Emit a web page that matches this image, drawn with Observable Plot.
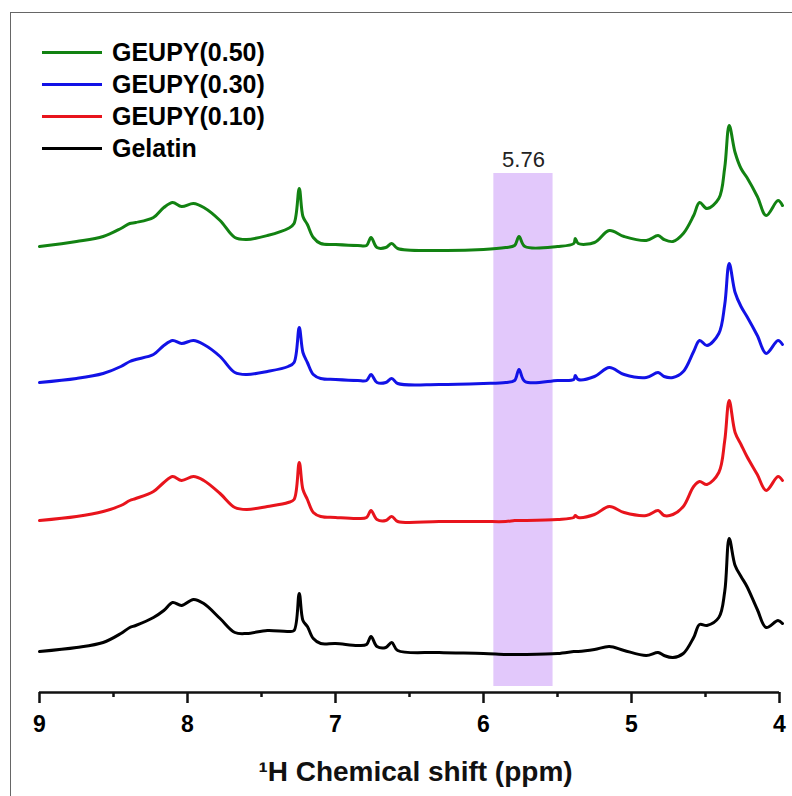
<!DOCTYPE html>
<html><head><meta charset="utf-8">
<script src="https://cdn.jsdelivr.net/npm/d3@7"></script>
<script src="https://cdn.jsdelivr.net/npm/@observablehq/plot@0.6"></script>
<style>
body{margin:0;background:#fff;overflow:hidden;font-family:"Liberation Sans",Arial,sans-serif;}
#wrap{position:relative;width:792px;height:796px;}
#frame{position:absolute;left:10px;top:12px;right:0;bottom:-2px;border-left:1.5px solid #666;border-top:1.5px solid #666;pointer-events:none;}
#legend{position:absolute;left:42px;top:36px;}
.item{display:flex;align-items:center;height:32px;font-weight:bold;font-size:25px;color:#000;}
.swatch{width:60px;height:3px;margin-right:10px;}
#chart{position:absolute;left:0;top:0;}
</style></head>
<body>
<div id="wrap"><div id="chart"></div><div id="frame"></div><div id="legend"></div></div>
<script>
// chemical shift positions (ppm)
const ppm = [9.0,8.75,8.57,8.45,8.39,8.35,8.23,8.16,8.1,8.04,7.96,7.89,7.78,7.68,7.6,7.46,7.32,7.28,7.245,7.22,7.19,7.15,7.1,7.0,6.85,6.79,6.76,6.72,6.66,6.62,6.58,6.3,6.0,5.85,5.79,5.76,5.72,5.5,5.39,5.38,5.36,5.25,5.15,5.05,4.9,4.82,4.78,4.72,4.65,4.58,4.54,4.49,4.41,4.37,4.34,4.3,4.26,4.22,4.15,4.09,4.01,3.98];

// series names (legend order) and colours
const seriesNames = ["GEUPY(0.50)","GEUPY(0.30)","GEUPY(0.10)","Gelatin"];
const seriesColors = ["#128212","#1212e6","#e8141c","#000000"];
// vertical stacking offsets (arbitrary intensity units)
const seriesOffsets = [446,310,172,41];

// intensities (arbitrary units) per series
const geupy050 = [0,5,10,18,23,24,29,39,44,40,43,39,26,9,7,11,18,23,58,30,22,9,3,2,1,1,9,-1,-1,3,-2,-4,-3,-1,1,10,0,0,3,8,3,4,16,10,6,11,7,5,13,31,44,38,48,79,121,94,78,69,50,31,46,41];
const geupy030 = [0,4,9,16,21,23,28,37,42,39,42,38,26,10,8,11,16,20,55,30,20,8,4,3,2,2,8,0,0,4,-1,-2,-1,0,2,13,1,2,3,7,3,6,15,8,5,10,6,5,11,31,42,37,49,78,119,90,76,66,47,29,42,38];
const geupy010 = [0,4,9,15,20,22,29,38,44,40,44,40,27,13,11,14,18,21,58,31,21,8,4,3,2,3,10,1,0,4,-1,-1,-1,-1,0,0,0,1,3,5,3,6,14,8,5,10,5,6,14,34,39,36,48,80,120,88,76,64,46,30,44,40];
const gelatin  = [0,4,9,18,24,26,34,41,49,46,52,48,33,19,18,21,20,21,58,31,25,13,8,8,6,7,15,5,4,9,1,-1,-2,-3,-3,-3,-3,-2,0,0,0,2,5,1,-4,-1,-4,-6,-2,14,27,26,34,60,113,86,75,65,42,24,31,28];

// highlighted region
const highlight = [{x1:5.93, x2:5.53, y1:6, y2:519, label:"5.76"}];

// axis ticks
const majorTicks = [9,8,7,6,5,4];
const minorTicks = [8.5,7.5,6.5,5.5,4.5];
const xLabel = "\u00B9H Chemical shift (ppm)";

const seriesValues = [geupy050, geupy030, geupy010, gelatin];
const data = [];
seriesNames.forEach((name, i) => {
  ppm.forEach((p, j) => data.push({series: name, ppm: p, y: seriesOffsets[i] + seriesValues[i][j]}));
});

const font = '"Liberation Sans", Arial, sans-serif';
const chart = Plot.plot({
  width: 792, height: 796,
  marginLeft: 39, marginRight: 13, marginTop: 12, marginBottom: 104,
  style: {fontFamily: font, background: "transparent", overflow: "visible"},
  x: {domain: [9, 4], axis: null},
  y: {domain: [0, 680], axis: null},
  color: {domain: seriesNames, range: seriesColors},
  marks: [
    Plot.rect(highlight, {x1: "x1", x2: "x2", y1: "y1", y2: "y2", fill: "#e2c8fb"}),
    Plot.text(highlight, {x: d => (d.x1 + d.x2) / 2, y: "y2", text: "label", dy: -14, fontSize: 22, fill: "#222"}),
    Plot.line(data, {x: "ppm", y: "y", z: "series", stroke: "series", strokeWidth: 3, curve: "catmull-rom"}),
    Plot.ruleY([0], {x1: 9, x2: 4, stroke: "#111", strokeWidth: 2.5}),
    Plot.axisX({ticks: majorTicks, tickSize: 11, tickPadding: 12, tickFormat: d => String(d), fontSize: 23, fontWeight: "bold", stroke: "#111", strokeWidth: 2.5, label: null}),
    Plot.axisX({ticks: minorTicks, tickSize: 5, tickFormat: () => "", stroke: "#111", strokeWidth: 2.5, label: null}),
    Plot.text([xLabel], {frameAnchor: "bottom", text: d => d, dy: 88, dx: 6, fontSize: 28, fontWeight: "bold", fill: "#111"})
  ]
});
document.getElementById("chart").appendChild(chart);

const legend = document.getElementById("legend");
seriesNames.forEach((name, i) => {
  const item = document.createElement("div");
  item.className = "item";
  const sw = document.createElement("div");
  sw.className = "swatch";
  sw.style.background = seriesColors[i];
  const t = document.createElement("span");
  t.textContent = name;
  item.appendChild(sw); item.appendChild(t);
  legend.appendChild(item);
});
</script>
</body></html>
